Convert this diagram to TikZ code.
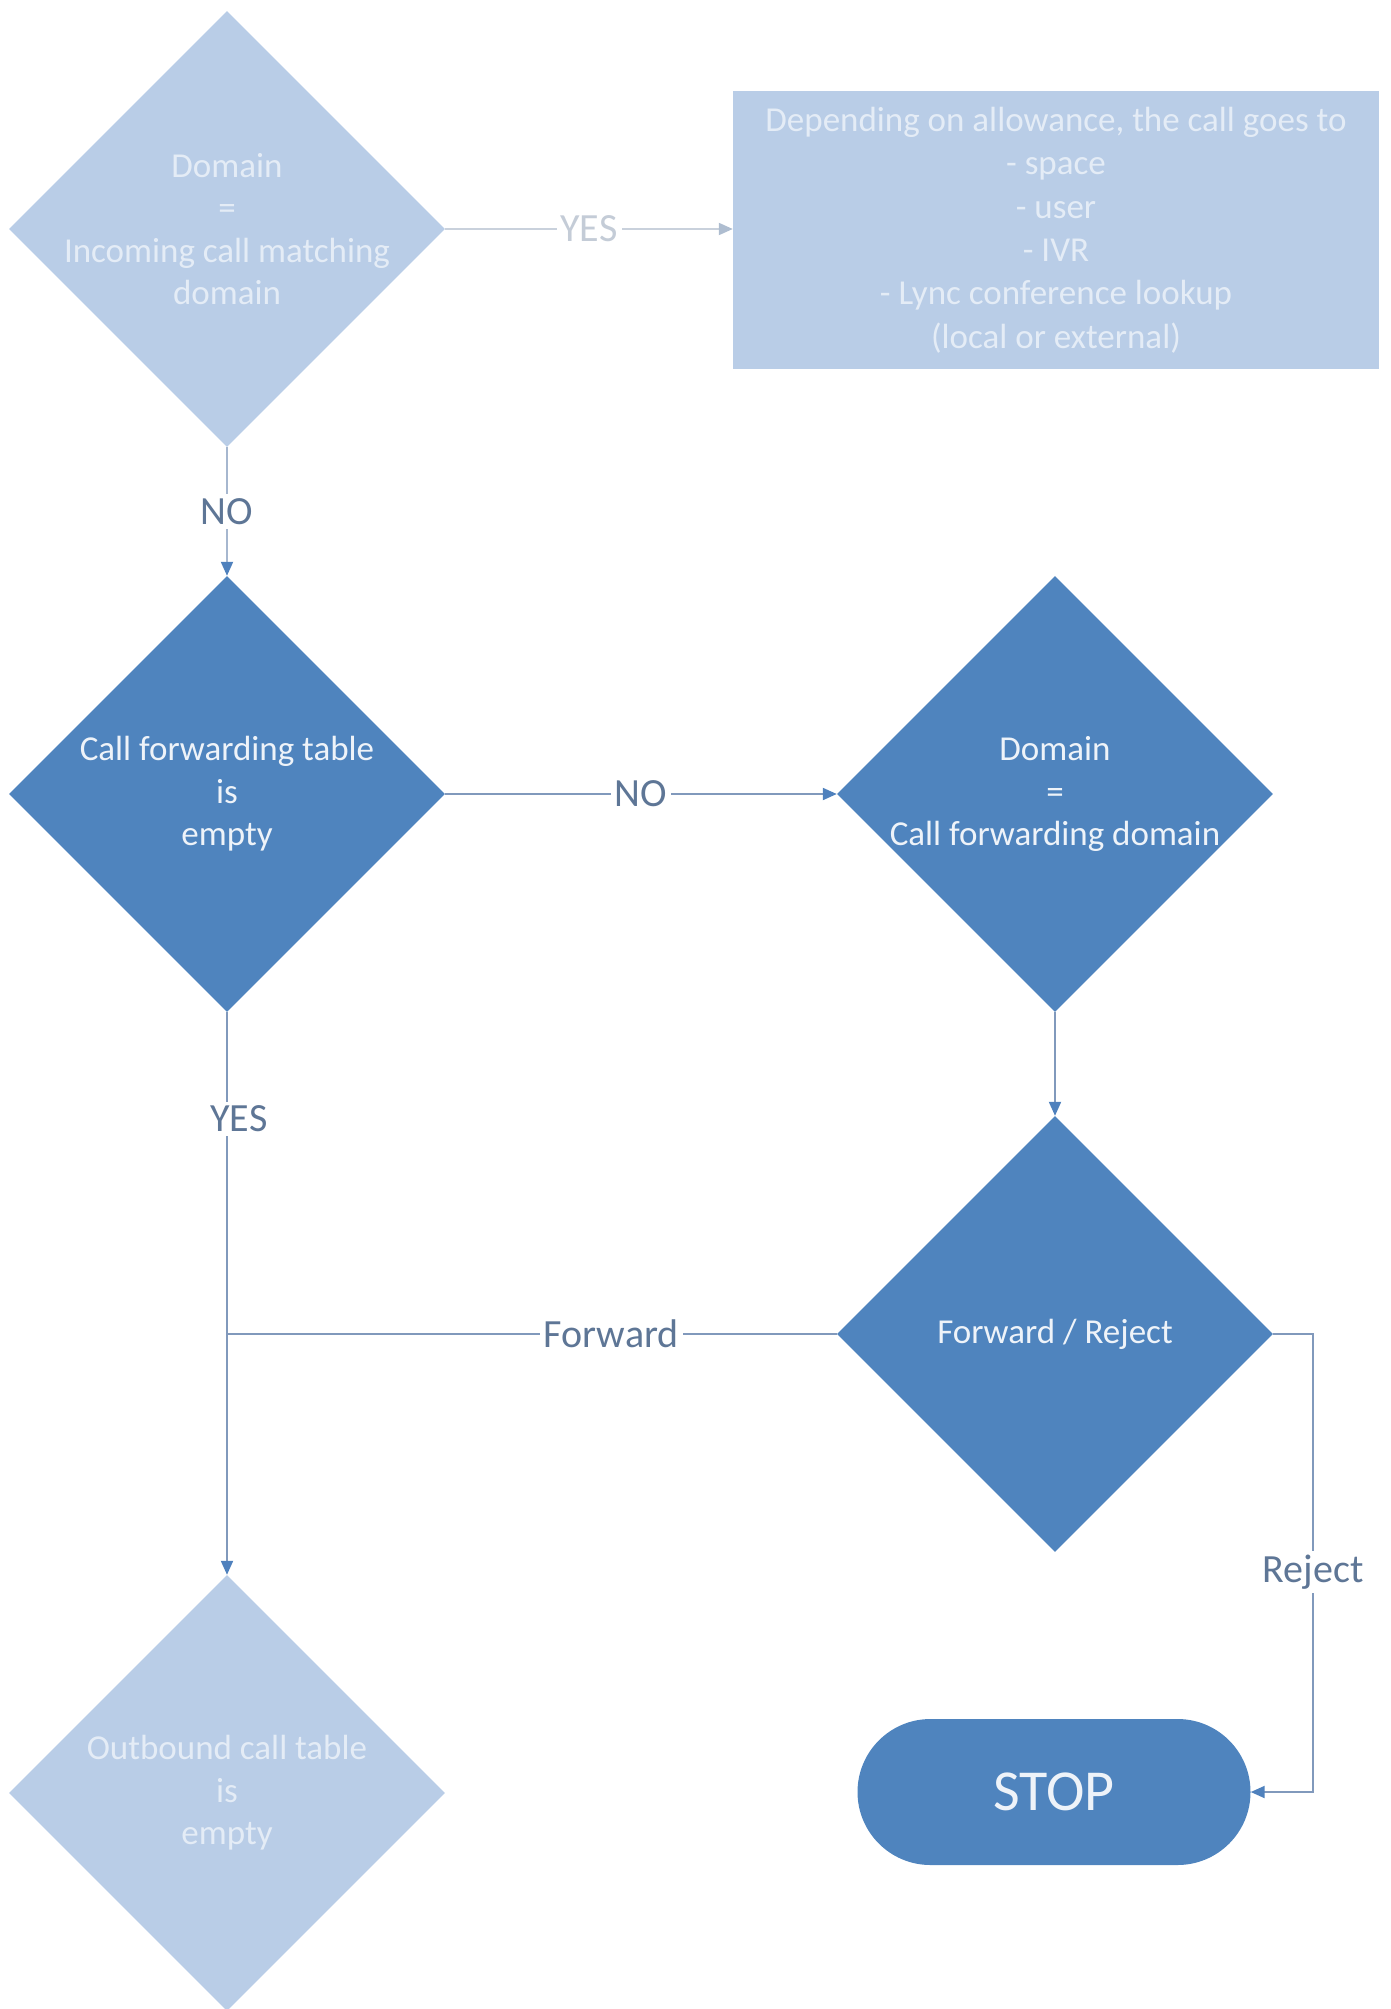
\documentclass[tikz,border=0pt]{standalone}
\usepackage{fontspec}
\setmainfont{Carlito}
\usetikzlibrary{shapes.geometric,arrows.meta}
\definecolor{darkfill}{HTML}{4F84BE}
\definecolor{lightfill}{HTML}{B9CDE7}
\definecolor{lighttext}{HTML}{E4ECF6}
\definecolor{darktext}{HTML}{EEF3F9}
\definecolor{lblcol}{HTML}{5E7696}
\definecolor{palelbl}{HTML}{C4CCD7}
\definecolor{paleline}{HTML}{C9D1DC}
\definecolor{paletip}{HTML}{AEBDD0}
\definecolor{midline}{HTML}{A6B7CF}
\definecolor{lineblue}{HTML}{8199BC}
\definecolor{tipblue}{HTML}{4F81BD}
\begin{document}
\begin{tikzpicture}[x=1pt,y=-1pt,
  dia/.style={diamond, draw=none, minimum width=436pt, minimum height=436pt, inner sep=0pt},
  dtxt/.style={text=#1, align=center, inner sep=0pt, font=\fontsize{35}{42.5}\selectfont},
  lbl/.style={text=lblcol, fill=white, inner sep=4pt, font=\fontsize{40}{48}\selectfont},
  plbl/.style={lbl, text=palelbl},
  conn/.style={draw=lineblue, line width=2pt, -{Triangle[length=14pt,width=12pt,color=tipblue]}},
  plain/.style={draw=lineblue, line width=2pt},
  paleconn/.style={draw=paleline, line width=2pt, -{Triangle[length=14pt,width=12pt,color=paletip]}}
]
\useasboundingbox (0,0) rectangle (1391,2009);

% nodes
\node[dia, fill=lightfill] (d1) at (227,229) {};
\node[dtxt=lighttext] (t1) at (d1.center) {Domain\\=\\Incoming call matching\\domain};

\node[rectangle, fill=lightfill, minimum width=646pt, minimum height=278pt, inner sep=0pt,
      text=lighttext, align=center, font=\fontsize{35}{43.4}\selectfont] (box) at (1056,230)
  {Depending on allowance, the call goes to\\- space\\- user\\- IVR\\- Lync conference lookup\\(local or external)};

\node[dia, fill=darkfill] (d2) at (227,794) {};
\node[dtxt=darktext] (t2) at (d2.center) {Call forwarding table\\is\\empty};

\node[dia, fill=darkfill] (d3) at (1055,794) {};
\node[dtxt=darktext] (t3) at (d3.center) {Domain\\=\\Call forwarding domain};

\node[dia, fill=darkfill] (d5) at (1055,1334) {};
\node[dtxt=darktext] (t5) at (d5.center) {Forward / Reject};

\node[dia, fill=lightfill] (d4) at (227,1793) {};
\node[dtxt=lighttext] (t4) at (d4.center) {Outbound call table\\is\\empty};

\node[rectangle, rounded corners=73pt, fill=darkfill, minimum width=393pt, minimum height=146pt,
      inner sep=0pt, text=darktext, font=\fontsize{58}{66}\selectfont] (stop) at (1054,1792) {STOP};

% connectors
\draw[paleconn] (d1.east) -- node[plbl]{YES} (box.west |- d1.east);
\draw[draw=midline, line width=2pt, -{Triangle[length=14pt,width=12pt,color=tipblue]}]
  (d1.south) -- node[lbl]{NO} (d2.north);
\draw[conn] (d2.east) -- node[lbl]{NO} (d3.west);
\draw[conn] (d3.south) -- (d5.north);
\draw[conn] (d2.south) -- node[lbl, pos=0.19, xshift=12pt]{YES} (d4.north);
\coordinate (j) at (d2.south |- d5.west);
\draw[plain] (d5.west) -- node[lbl, pos=0.37]{Forward} (j);
\draw[conn] (d5.east) -- ++(40,0) |- node[lbl, pos=0.26]{Reject} (stop.east);
\end{tikzpicture}
\end{document}
